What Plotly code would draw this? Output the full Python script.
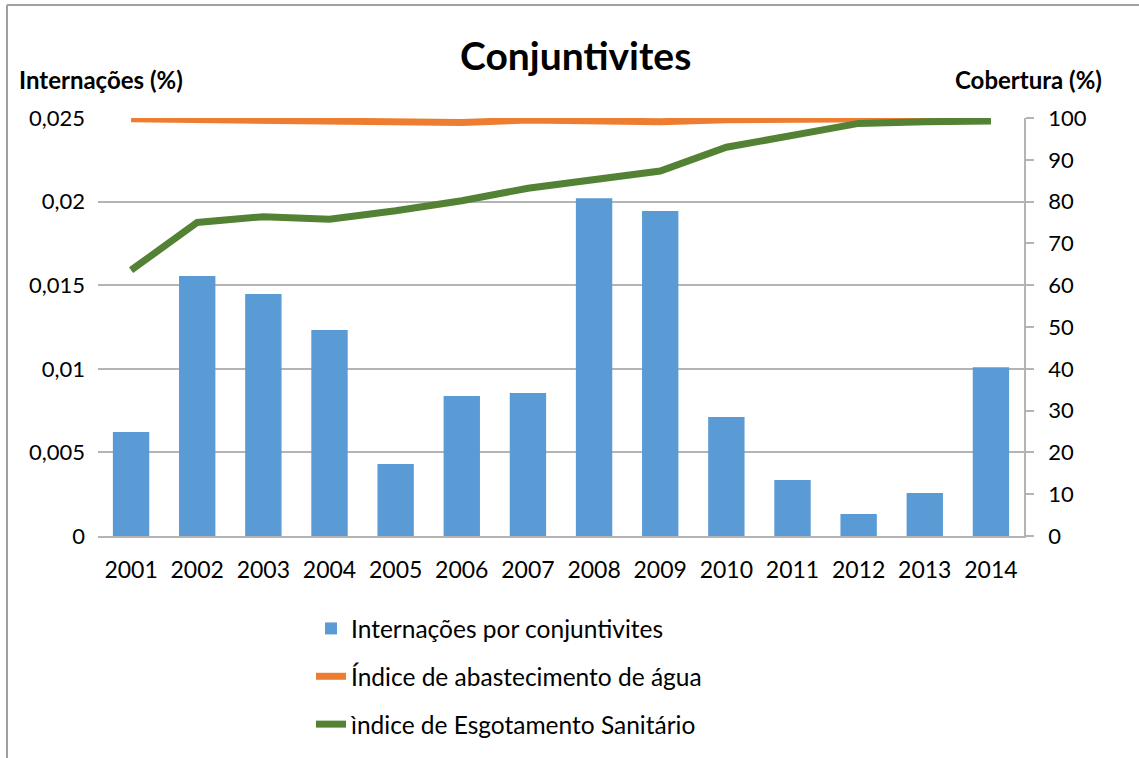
import plotly.graph_objects as go

years = ["2001", "2002", "2003", "2004", "2005", "2006", "2007",
         "2008", "2009", "2010", "2011", "2012", "2013", "2014"]
internacoes = [0.00622, 0.01555, 0.01447, 0.01232, 0.0043, 0.00837, 0.00855,
               0.0202, 0.01944, 0.00712, 0.00335, 0.00132, 0.00257, 0.0101]
abastecimento = [99.8, 99.6, 99.6, 99.4, 99.2, 98.9, 99.5,
                 99.2, 99.1, 99.6, 99.7, 99.8, 99.9, 100.0]
esgotamento = [63.6, 75.0, 76.4, 75.8, 77.8, 80.2, 83.2,
               85.3, 87.3, 93.0, 95.7, 98.7, 99.1, 99.3]
left_ticks = [0, 0.005, 0.01, 0.015, 0.02, 0.025]
left_labels = ["0", "0,005", "0,01", "0,015", "0,02", "0,025"]
right_ticks = [0, 10, 20, 30, 40, 50, 60, 70, 80, 90, 100]

FONT = "Lato"
W, H = 1139, 758
L, R, T, B = 98, 115, 118, 222
pw, ph = W - L - R, H - T - B

fig = go.Figure()
fig.add_trace(go.Bar(x=years, y=internacoes, name="Internações por conjuntivites",
                     marker=dict(color="#5b9bd5", line=dict(width=0)),
                     legendgroup="a", yaxis="y"))
fig.add_trace(go.Scatter(x=years, y=abastecimento, name="Índice de abastecimento de água",
                         mode="lines", line=dict(color="#ed7d31", width=7),
                         legendgroup="b", yaxis="y2"))
fig.add_trace(go.Scatter(x=years, y=esgotamento, name="ìndice de Esgotamento Sanitário",
                         mode="lines", line=dict(color="#548235", width=7),
                         legendgroup="c", yaxis="y2"))

def px_x(p):
    return (p - L) / pw

def px_y(p):
    return 1 - (p - T) / ph

fig.update_layout(
    width=W, height=H,
    margin=dict(l=L, r=R, t=T, b=B, autoexpand=False),
    paper_bgcolor="white", plot_bgcolor="white",
    font=dict(family=FONT, size=22, color="#000000"),
    bargap=0.45,
    showlegend=True,
    legend=dict(x=px_x(311), y=px_y(606), xanchor="left", yanchor="top",
                orientation="v", tracegroupgap=13,
                font=dict(family=FONT, size=24.5, color="#000000"),
                bgcolor="rgba(0,0,0,0)"),
    xaxis=dict(showgrid=False, showline=True, linecolor="#b4b4b4", linewidth=1.5,
               ticks="", tickfont=dict(family=FONT, size=23), ticklabelstandoff=13,
               automargin=False),
    yaxis=dict(range=[0, 0.025], tickvals=left_ticks, ticktext=left_labels,
               showgrid=True, gridcolor="#b4b4b4", gridwidth=1.5,
               showline=False, zeroline=False, ticks="", ticklabelstandoff=12,
               tickfont=dict(family=FONT, size=22), automargin=False),
    yaxis2=dict(range=[0, 100], tickvals=right_ticks, overlaying="y", side="right",
                showgrid=False, zeroline=False, showline=True, linecolor="#b4b4b4",
                linewidth=1.5, ticks="outside", ticklen=8, tickcolor="#b4b4b4",
                tickwidth=1.5, ticklabelstandoff=10, tickfont=dict(family=FONT, size=22),
                automargin=False),
    annotations=[
        dict(text="<b>Conjuntivites</b>", x=px_x(575), y=px_y(55), xref="paper", yref="paper",
             showarrow=False, font=dict(family=FONT, size=39), xanchor="center", yanchor="middle"),
        dict(text="<b>Internações (%)</b>", x=px_x(17), y=px_y(79), xref="paper", yref="paper",
             showarrow=False, font=dict(family=FONT, size=24), xanchor="left", yanchor="middle"),
        dict(text="<b>Cobertura (%)</b>", x=px_x(1104), y=px_y(79), xref="paper", yref="paper",
             showarrow=False, font=dict(family=FONT, size=24), xanchor="right", yanchor="middle"),
    ],
    shapes=[
        dict(type="line", xref="paper", yref="paper", x0=px_x(7), x1=px_x(7),
             y0=px_y(5), y1=px_y(770), line=dict(color="#a0a0a0", width=2)),
        dict(type="line", xref="paper", yref="paper", x0=px_x(7), x1=px_x(1150),
             y0=px_y(5), y1=px_y(5), line=dict(color="#a0a0a0", width=2)),
    ],
)

fig.write_html("out.html", config={"displayModeBar": False},
               post_script="document.body.style.margin='0';")
